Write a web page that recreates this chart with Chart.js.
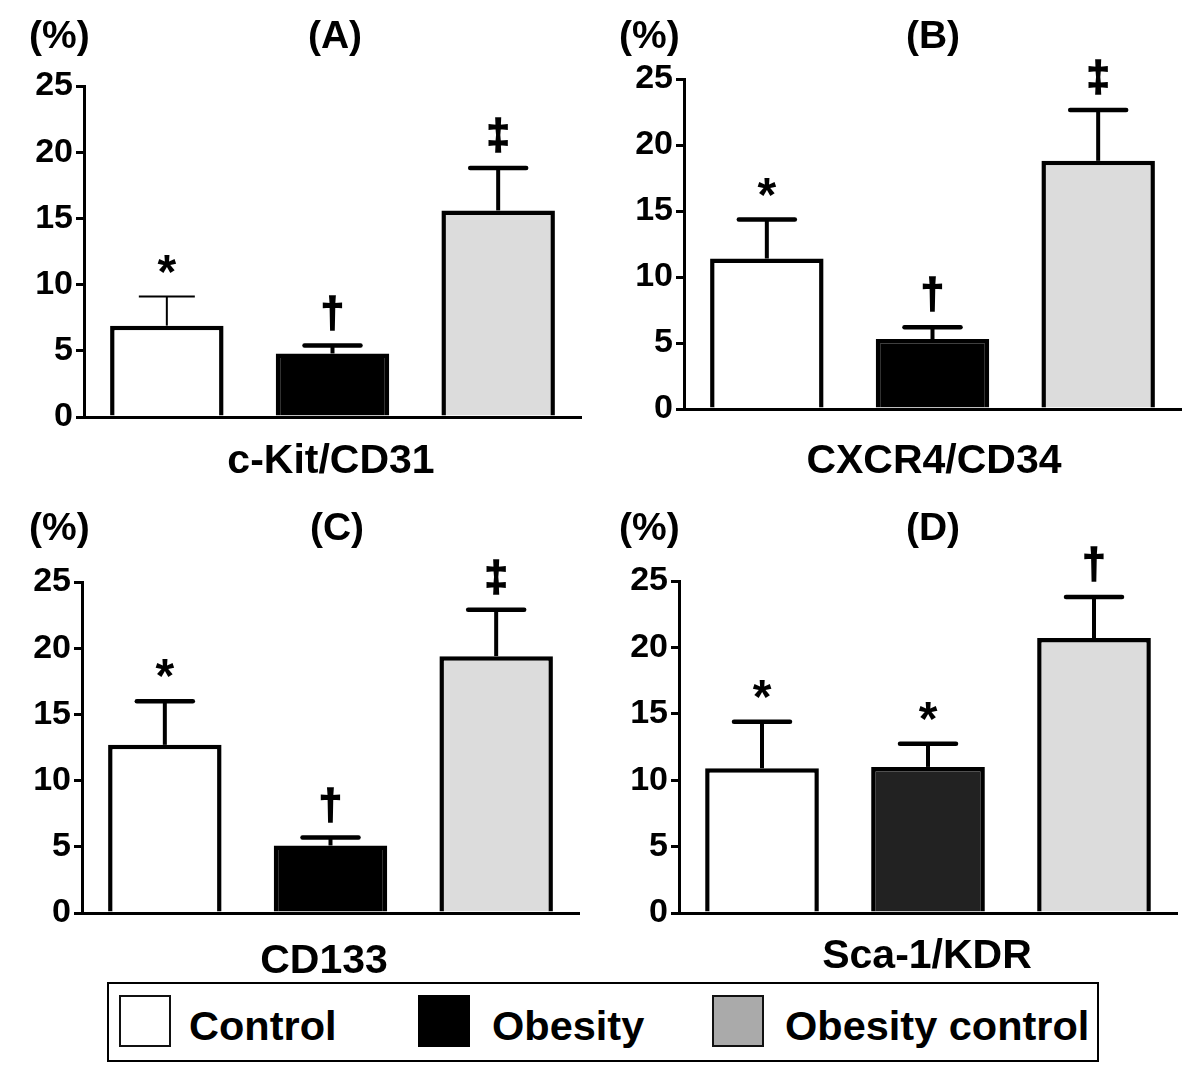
<!DOCTYPE html>
<html>
<head>
<meta charset="utf-8">
<script src="https://cdn.jsdelivr.net/npm/chart.js@4.4.1/dist/chart.umd.min.js"></script>
<style>
  html, body { margin: 0; padding: 0; background: #fff; }
  body { width: 1200px; height: 1068px; position: relative; overflow: hidden;
         font-family: "Liberation Sans", Arial, Helvetica, sans-serif; font-weight: bold; color: #000; }
  canvas.c { position: absolute; }
  .t { position: absolute; white-space: nowrap; }
  .ctr { transform: translateX(-50%); }
  #legend { position: absolute; left: 107px; top: 982px; width: 992px; height: 80px;
            border: 2px solid #000; box-sizing: border-box; }
  .sw { position: absolute; box-sizing: border-box; }
</style>
</head>
<body>
<canvas class="c" id="pA" width="600" height="480" style="left:0px;top:0px"></canvas>
<canvas class="c" id="pB" width="600" height="480" style="left:600px;top:0px"></canvas>
<canvas class="c" id="pC" width="600" height="480" style="left:0px;top:490px"></canvas>
<canvas class="c" id="pD" width="600" height="480" style="left:600px;top:490px"></canvas>
<div id="texts"></div>
<div id="legend"></div>
<script>
// ---------------- data ----------------
const groups = ['Control', 'Obesity', 'Obesity control'];
const panelLetters = ['(A)', '(B)', '(C)', '(D)'];
const markerNames = ['c-Kit/CD31', 'CXCR4/CD34', 'CD133', 'Sca-1/KDR'];
const yUnit = '(%)';
const yTicks = [0, 5, 10, 15, 20, 25];

const ckitMean  = [6.9, 4.8, 15.6];
const ckitErr   = [2.2, 0.6, 3.2];
const ckitSig   = ['*', '†', '‡'];

const cxcr4Mean = [11.4, 5.3, 18.8];
const cxcr4Err  = [2.95, 0.9, 3.85];
const cxcr4Sig  = ['*', '†', '‡'];

const cd133Mean = [12.7, 5.1, 19.4];
const cd133Err  = [3.3, 0.6, 3.5];
const cd133Sig  = ['*', '†', '‡'];

const scaMean   = [10.9, 11.0, 20.7];
const scaErr    = [3.5, 1.75, 3.1];
const scaSig    = ['*', '*', '†'];

// ---------------- style / layout ----------------
const FONT = '"Liberation Sans", Arial, Helvetica, sans-serif';
const panels = [
  { id: 'pA', mean: ckitMean,  err: ckitErr,  sig: ckitSig,  colors: ['#ffffff', '#000000', '#dcdcdc'],
    yW: 84, pad: { left: 0, right: 19, top: 86, bottom: 63 }, thin: [true, false, false] },
  { id: 'pB', mean: cxcr4Mean, err: cxcr4Err, sig: cxcr4Sig, colors: ['#ffffff', '#000000', '#dcdcdc'],
    yW: 84, pad: { left: 0, right: 19, top: 79, bottom: 71 }, thin: [false, false, false] },
  { id: 'pC', mean: cd133Mean, err: cd133Err, sig: cd133Sig, colors: ['#ffffff', '#000000', '#dcdcdc'],
    yW: 82, pad: { left: 0, right: 21, top: 92, bottom: 57 }, thin: [false, false, false] },
  { id: 'pD', mean: scaMean,   err: scaErr,   sig: scaSig,   colors: ['#ffffff', '#222222', '#dcdcdc'],
    yW: 79, pad: { left: 0, right: 23, top: 91, bottom: 57 }, thin: [false, false, false] }
];

const errorBarPlugin = {
  id: 'errorBars',
  afterDatasetsDraw(chart, args, opts) {
    const ctx = chart.ctx;
    const meta = chart.getDatasetMeta(0);
    const ys = chart.scales.y;
    const p = opts.panel;
    ctx.save();
    ctx.strokeStyle = '#000';
    ctx.fillStyle = '#000';
    meta.data.forEach((bar, i) => {
      const top = ys.getPixelForValue(p.mean[i] + p.err[i]);
      const x = bar.x;
      ctx.lineCap = 'butt';
      ctx.lineWidth = p.thin[i] ? 2 : 4;
      ctx.beginPath();
      ctx.moveTo(x, bar.y);
      ctx.lineTo(x, top);
      ctx.stroke();
      ctx.lineWidth = p.thin[i] ? 2 : 4.5;
      ctx.lineCap = p.thin[i] ? 'butt' : 'round';
      ctx.beginPath();
      ctx.moveTo(x - 28, top);
      ctx.lineTo(x + 28, top);
      ctx.stroke();
      // significance mark
      const s = p.sig[i];
      const fs = s === '*' ? 48 : 42;
      ctx.font = 'bold ' + fs + 'px ' + FONT;
      ctx.textAlign = 'center';
      ctx.textBaseline = 'alphabetic';
      const m = ctx.measureText(s);
      const center = top - 33;
      const base = center + (m.actualBoundingBoxAscent - m.actualBoundingBoxDescent) / 2;
      ctx.fillText(s, x, base);
      if (s !== '*') {
        ctx.lineWidth = 1.6;
        ctx.lineCap = 'butt';
        ctx.lineJoin = 'miter';
        ctx.strokeText(s, x, base);
      }
    });
    ctx.restore();
  }
};

panels.forEach((p) => {
  new Chart(document.getElementById(p.id), {
    type: 'bar',
    data: {
      labels: groups,
      datasets: [{
        data: p.mean,
        backgroundColor: p.colors,
        borderColor: '#000',
        borderWidth: 4.5,
        borderSkipped: 'bottom',
        barPercentage: 0.685,
        categoryPercentage: 1.0
      }]
    },
    options: {
      responsive: false,
      animation: false,
      devicePixelRatio: 1,
      layout: { padding: p.pad },
      plugins: {
        legend: { display: false },
        tooltip: { enabled: false },
        title: { display: false },
        errorBars: { panel: p }
      },
      scales: {
        x: {
          type: 'category',
          ticks: { display: false },
          grid: { display: false },
          border: { display: true, color: '#000', width: 3 },
          afterFit(scale) { scale.height = 0; }
        },
        y: {
          min: 0, max: 25,
          afterBuildTicks(scale) { scale.ticks = yTicks.map(v => ({ value: v })); },
          ticks: {
            color: '#000',
            padding: 3,
            font: { family: FONT, weight: 'bold', size: 34 }
          },
          grid: { drawOnChartArea: false, drawTicks: true, tickLength: 8, color: '#000', lineWidth: 3 },
          border: { display: true, color: '#000', width: 3 },
          afterFit(scale) { scale.width = p.yW; }
        }
      }
    },
    plugins: [errorBarPlugin]
  });
});

// ---------------- text labels (HTML) ----------------
const texts = document.getElementById('texts');
function addText(str, x, baseline, fs, centered) {
  const d = document.createElement('div');
  d.className = 't' + (centered ? ' ctr' : '');
  d.textContent = str;
  d.style.fontSize = fs + 'px';
  d.style.lineHeight = fs + 'px';
  d.style.left = x + 'px';
  d.style.top = (baseline - 0.8465 * fs) + 'px';
  texts.appendChild(d);
}
const unitPos = [[29, 48], [619, 48], [29, 540], [619, 540]];
const letterPos = [[335, 48], [933, 48], [337, 540], [933, 540]];
const namePos = [[331, 474], [934, 474], [324, 974], [927, 969]];
for (let i = 0; i < 4; i++) {
  addText(yUnit, unitPos[i][0], unitPos[i][1], 39, false);
  addText(panelLetters[i], letterPos[i][0], letterPos[i][1], 39, true);
  addText(markerNames[i], namePos[i][0], namePos[i][1], 41, true);
}

// ---------------- legend (HTML) ----------------
const legend = document.getElementById('legend');
const legendFill = ['#ffffff', '#000000', '#aaaaaa'];
const swLeft = [119, 418, 712];
const txtLeft = [189, 492, 785];
groups.forEach((g, i) => {
  const sw = document.createElement('div');
  sw.className = 'sw';
  sw.style.left = (swLeft[i] - 107 - 2) + 'px';
  sw.style.top = (995 - 982 - 2) + 'px';
  sw.style.width = '52px';
  sw.style.height = '52px';
  sw.style.background = legendFill[i];
  sw.style.border = '2px solid ' + (i === 1 ? '#000' : '#111');
  legend.appendChild(sw);
  const t = document.createElement('div');
  t.className = 't';
  t.textContent = g;
  t.style.fontSize = '41.5px';
  t.style.lineHeight = '41.5px';
  t.style.left = (txtLeft[i] - 107 - 2) + 'px';
  t.style.top = (1040 - 0.8465 * 41.5 - 982 - 2) + 'px';
  legend.appendChild(t);
});
</script>
</body>
</html>
